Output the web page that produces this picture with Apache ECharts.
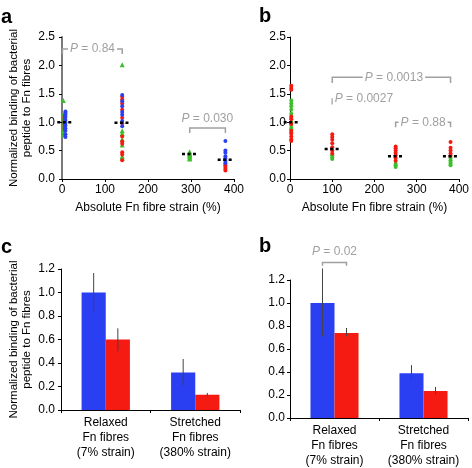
<!DOCTYPE html>
<html><head><meta charset="utf-8">
<script src="https://cdn.jsdelivr.net/npm/echarts@6/dist/echarts.min.js"></script>
<style>html,body{margin:0;padding:0;background:#fff}#c{width:472px;height:468px}</style>
</head><body><div id="c"></div>
<script>
// ---------- Panel a (scatter) ----------
const aGreen = [[3,1.38],[3,1.13],[3,1.05],[3,0.97],[3,0.90],[3,0.84],[3,0.78],
  [140,2.01],[140,0.85],[140,0.80],[140,0.70],[140,0.60],[140,0.40],[140,0.37],
  [297,0.48],[297,0.45],[297,0.43],[297,0.41],[297,0.39],[297,0.37],[297,0.35]];
const aRed = [[6,1.10],[6,1.06],[6,1.02],[6,0.96],[6,0.92],[6,0.88],
  [140,1.45],[140,1.40],[140,1.33],[140,1.22],[140,1.08],[140,0.98],[140,0.75],[140,0.66],[140,0.62],[140,0.47],[140,0.43],[140,0.33],
  [380,0.27],[380,0.24],[380,0.21],[380,0.18],[380,0.15]];
const aBlue = [[8,1.19],[8,1.16],[8,1.13],[8,1.09],[8,1.04],[8,0.99],[8,0.94],[8,0.89],[8,0.85],[8,0.79],[8,0.74],
  [140,1.48],[140,1.37],[140,1.28],[140,1.18],[140,1.13],[140,1.02],[140,0.93],
  [380,0.67],[380,0.50],[380,0.46],[380,0.40],[380,0.36],[380,0.32],[380,0.28]];
const aMedians = [[7,1.0],[140,0.99],[297,0.44],[380,0.34]];
// bracket: [xLeft, xRight, yTop, yTick, textX, textY]
const aBrackets = [[1,140,2.29,2.20,71,2.29],[297,380,0.90,0.81,338,1.06]];
const aPvals = ['0.84','0.030'];

// ---------- Panel b (scatter) ----------
const bGreen = [[3,1.38],[3,1.33],[3,1.28],[3,1.22],[3,1.15],[3,1.07],[3,1.00],[3,0.95],[3,0.90],[3,0.87],[3,0.82],
  [100,0.42],[100,0.38],[100,0.35],
  [250,0.27],[250,0.24],[250,0.21],
  [380,0.37],[380,0.33],[380,0.30],[380,0.27],[380,0.24]];
const bRed = [[3,1.64],[3,1.60],[3,1.57],[3,1.10],[3,1.05],[3,0.97],[3,0.85],[3,0.80],[3,0.75],[3,0.70],[3,0.67],
  [100,0.79],[100,0.74],[100,0.69],[100,0.63],[100,0.56],[100,0.50],[100,0.45],
  [250,0.57],[250,0.54],[250,0.50],[250,0.46],[250,0.42],[250,0.37],[250,0.32],
  [380,0.65],[380,0.55],[380,0.50],[380,0.45],[380,0.41]];
const bMedians = [[3,1.0],[100,0.53],[250,0.40],[380,0.40]];
const bBrackets = [[100,380,1.79,1.69,246,1.79],[100,246,1.41,1.31,175,1.41],[250,380,1.00,0.91,315,1.00]];
const bPvals = ['0.0013','0.0027','0.88'];

// ---------- Panels c and d (bars) ----------
const barCats = ['Relaxed\nFn fibres\n(7% strain)', 'Stretched\nFn fibres\n(380% strain)'];
const cBlue = [1.0, 0.32];
const cBlueLo = [0.84, 0.21], cBlueHi = [1.166, 0.434];
const cRed = [0.60, 0.13];
const cRedLo = [0.50, 0.116], cRedHi = [0.695, 0.145];
const dBlue = [1.0, 0.39];
const dBlueLo = [0.71, 0.335], dBlueHi = [1.30, 0.46];
const dRed = [0.74, 0.235];
const dRedLo = [0.71, 0.207], dRedHi = [0.783, 0.27];
// bracket over relaxed bars in d: [catIndex, yTop, yTick, textY]
const dBracket = [[0, 1.353, 1.325, 1.45]];
const dPvals = ['0.02'];

const FONT = 'Liberation Sans';
const BLUE = '#2a3ff2', RED = '#f51a12', GREEN = '#3cbf2a', GRAY = '#a0a0a0';
const BARW = 0.135;

function medianRender(params, api) {
  const x = api.value(0), y = api.value(1);
  const p1 = api.coord([x - 18, y]), p2 = api.coord([x + 18, y]);
  return {type:'line', shape:{x1:p1[0], y1:p1[1], x2:p2[0], y2:p2[1]},
    style:{stroke:'#000', lineWidth:2.5, lineDash:[3,2.5]}, z2:10};
}
function makeBracketRender(labels) {
  return function(params, api) {
    const xl = api.value(0), xr = api.value(1), yt = api.value(2), yk = api.value(3), tx = api.value(4), ty = api.value(5);
    const a = api.coord([xl, yk]), b = api.coord([xl, yt]), c = api.coord([xr, yt]), d = api.coord([xr, yk]);
    const t = api.coord([tx, ty]);
    return {type:'group', children:[
      {type:'polyline', shape:{points:[a,b,c,d]}, style:{stroke:GRAY, lineWidth:1.5, fill:null}},
      {type:'text', x:t[0], y:t[1], style:{text:'{i|P} = ' + labels[params.dataIndex], align:'center', verticalAlign:'middle',
        fill:GRAY, fontSize:12, fontFamily:FONT, backgroundColor:'#fff', padding:[1,2],
        rich:{i:{fontStyle:'italic', fill:GRAY, fontSize:12, fontFamily:FONT}}}}
    ]};
  };
}
function errRender(side) {
  return function(params, api) {
    const cat = api.value(0), lo = api.value(1), hi = api.value(2);
    const band = api.size([1,0])[0];
    const p1 = api.coord([cat, lo]), p2 = api.coord([cat, hi]);
    const x = p1[0] + side * band * BARW;
    return {type:'line', shape:{x1:x, y1:p1[1], x2:x, y2:p2[1]}, style:{stroke:'#444', lineWidth:1}, z2:10};
  };
}
function dBracketRender(params, api) {
  const cat = api.value(0), yt = api.value(1), yk = api.value(2), ty = api.value(3);
  const band = api.size([1,0])[0];
  const c0 = api.coord([cat, yt]), ck = api.coord([cat, yk]), ct = api.coord([cat, ty]);
  const xl = c0[0] - band * BARW, xr = c0[0] + band * BARW;
  return {type:'group', children:[
    {type:'polyline', shape:{points:[[xl,ck[1]],[xl,c0[1]],[xr,c0[1]],[xr,ck[1]]]}, style:{stroke:GRAY, lineWidth:1.5, fill:null}},
    {type:'text', x:c0[0], y:ct[1], style:{text:'{i|P} = ' + dPvals[params.dataIndex], align:'center', verticalAlign:'middle',
      fill:GRAY, fontSize:12, fontFamily:FONT, rich:{i:{fontStyle:'italic', fill:GRAY, fontSize:12, fontFamily:FONT}}}}
  ]};
}

const yTitle = 'Normalized binding of bacterial\npeptide to Fn fibres';
function valX(gi) {
  return {type:'value', gridIndex:gi, min:0, max:400, interval:100,
    axisLine:{lineStyle:{color:'#000', width:1}}, axisTick:{show:true, length:3, lineStyle:{color:'#000'}},
    splitLine:{show:false}, axisLabel:{color:'#000', fontSize:12, fontFamily:FONT, margin:5},
    name:'Absolute Fn fibre strain (%)', nameLocation:'middle', nameGap:23,
    nameTextStyle:{color:'#000', fontSize:12, fontFamily:FONT}};
}
function valY(gi, max, interval, opts) {
  const o = {type:'value', gridIndex:gi, min:0, max:max, interval:interval,
    axisLine:{show:true, lineStyle:{color:opts.lineColor || '#000', width:opts.lineWidth || 1}},
    axisTick:{show:true, length:3, lineStyle:{color:'#000'}}, splitLine:{show:false},
    axisLabel:{color:'#000', fontSize:12, fontFamily:FONT, margin:opts.margin, formatter:v => v.toFixed(1)}};
  if (opts.title) {
    o.name = yTitle; o.nameLocation = 'middle'; o.nameGap = opts.nameGap; o.nameRotate = 90;
    o.nameTextStyle = {color:'#000', fontSize:11.5, fontFamily:FONT, lineHeight:13, align:'center'};
  }
  return o;
}
function catX(gi) {
  return {type:'category', gridIndex:gi, data:barCats,
    axisLine:{lineStyle:{color:'#000', width:1}}, axisTick:{show:true, length:3, lineStyle:{color:'#000'}},
    axisLabel:{color:'#000', fontSize:12, fontFamily:FONT, margin:5, lineHeight:15, interval:0}};
}

const chart = echarts.init(document.getElementById('c'), null, {renderer:'canvas'});
const scatterBase = (name, xi, data, color, symbol) => ({type:'scatter', name, xAxisIndex:xi, yAxisIndex:xi, data,
  symbol:symbol || 'circle', symbolSize:symbol === 'triangle' ? 5 : 4, itemStyle:{color, opacity:1}, silent:true});
const panelTitle = (t, left, top) => ({text:t, left, top, padding:0,
  textStyle:{fontSize:20, fontWeight:'bold', color:'#000', fontFamily:FONT}});

chart.setOption({
  animation:false,
  textStyle:{fontFamily:FONT},
  title:[panelTitle('a', 1, 7), panelTitle('b', 259, 6), panelTitle('c', 1, 237), panelTitle('b', 259, 236)],
  grid:[
    {left:62, top:37, width:172, height:142},
    {left:290, top:37, width:171, height:142},
    {left:61, top:269, width:179, height:141},
    {left:290, top:280, width:178, height:141}
  ],
  xAxis:[valX(0), valX(1), catX(2), catX(3)],
  yAxis:[
    valY(0, 2.5, 0.5, {lineColor:'#7a7a7a', lineWidth:2, margin:7, title:true, nameGap:29}),
    valY(1, 2.5, 0.5, {margin:4}),
    valY(2, 1.2, 0.2, {margin:6, title:true, nameGap:28}),
    valY(3, 1.2, 0.2, {margin:5})
  ],
  series:[
    scatterBase('aGreen', 0, aGreen, GREEN, 'triangle'),
    scatterBase('aRed', 0, aRed, RED),
    scatterBase('aBlue', 0, aBlue, BLUE),
    {type:'custom', xAxisIndex:0, yAxisIndex:0, data:aMedians, renderItem:medianRender, clip:false, z:5},
    {type:'custom', xAxisIndex:0, yAxisIndex:0, data:aBrackets, renderItem:makeBracketRender(aPvals), clip:false},
    scatterBase('bGreen', 1, bGreen, GREEN),
    scatterBase('bRed', 1, bRed, RED),
    {type:'custom', xAxisIndex:1, yAxisIndex:1, data:bMedians, renderItem:medianRender, clip:false, z:5},
    {type:'custom', xAxisIndex:1, yAxisIndex:1, data:bBrackets, renderItem:makeBracketRender(bPvals), clip:false},
    {type:'bar', xAxisIndex:2, yAxisIndex:2, data:cBlue, barWidth:'27%', barGap:'0%', itemStyle:{color:BLUE}, silent:true},
    {type:'bar', xAxisIndex:2, yAxisIndex:2, data:cRed, barWidth:'27%', barGap:'0%', itemStyle:{color:RED}, silent:true},
    {type:'custom', xAxisIndex:2, yAxisIndex:2, data:cBlue.map((v,i)=>[i, cBlueLo[i], cBlueHi[i]]), renderItem:errRender(-1), clip:false, z:5},
    {type:'custom', xAxisIndex:2, yAxisIndex:2, data:cRed.map((v,i)=>[i, cRedLo[i], cRedHi[i]]), renderItem:errRender(1), clip:false, z:5},
    {type:'bar', xAxisIndex:3, yAxisIndex:3, data:dBlue, barWidth:'27%', barGap:'0%', itemStyle:{color:BLUE}, silent:true},
    {type:'bar', xAxisIndex:3, yAxisIndex:3, data:dRed, barWidth:'27%', barGap:'0%', itemStyle:{color:RED}, silent:true},
    {type:'custom', xAxisIndex:3, yAxisIndex:3, data:dBlue.map((v,i)=>[i, dBlueLo[i], dBlueHi[i]]), renderItem:errRender(-1), clip:false, z:5},
    {type:'custom', xAxisIndex:3, yAxisIndex:3, data:dRed.map((v,i)=>[i, dRedLo[i], dRedHi[i]]), renderItem:errRender(1), clip:false, z:5},
    {type:'custom', xAxisIndex:3, yAxisIndex:3, data:dBracket, renderItem:dBracketRender, clip:false}
  ]
});
</script></body></html>
